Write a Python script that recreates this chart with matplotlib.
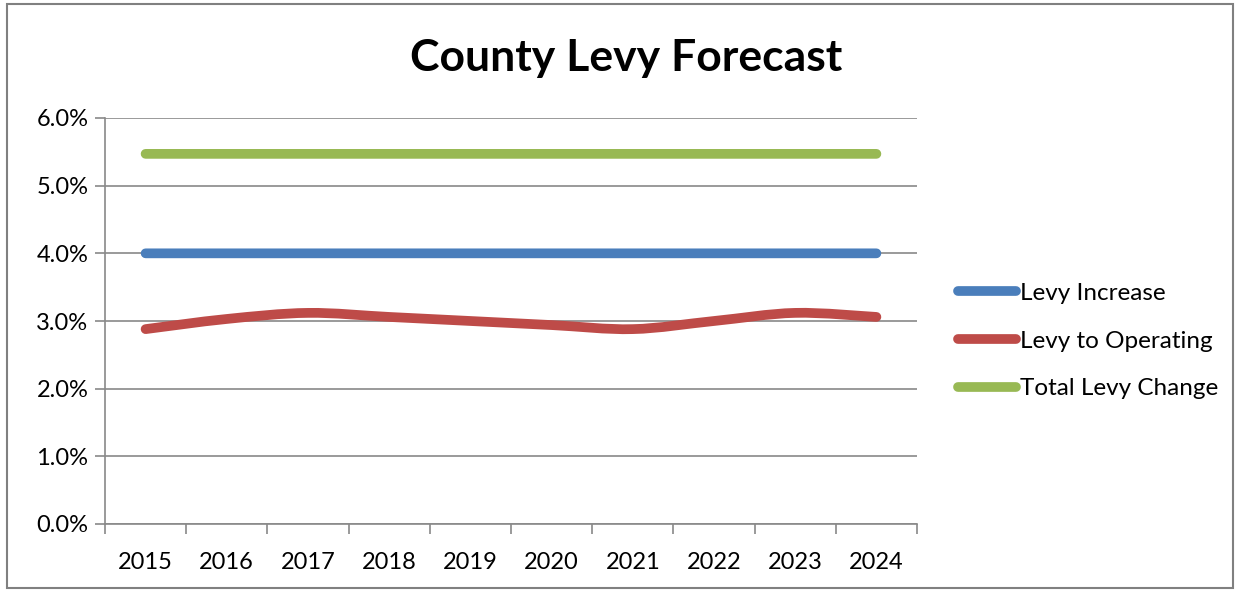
import matplotlib
matplotlib.use("Agg")
import matplotlib.pyplot as plt
from matplotlib.patches import Rectangle, PathPatch
from matplotlib.path import Path
from matplotlib.lines import Line2D
from matplotlib.ticker import FuncFormatter, FixedLocator
import numpy as np

years = ["2015", "2016", "2017", "2018", "2019", "2020", "2021", "2022", "2023", "2024"]
levy_increase = [4.0, 4.0, 4.0, 4.0, 4.0, 4.0, 4.0, 4.0, 4.0, 4.0]
levy_to_operating = [2.88, 3.03, 3.12, 3.06, 3.00, 2.94, 2.88, 3.00, 3.12, 3.06]
total_levy_change = [5.47, 5.47, 5.47, 5.47, 5.47, 5.47, 5.47, 5.47, 5.47, 5.47]
series_names = ["Levy Increase", "Levy to Operating", "Total Levy Change"]
colors = ["#4a7ebb", "#be4b48", "#98b954"]

plt.rcParams['font.family'] = ['Lato', 'DejaVu Sans']

fig = plt.figure(figsize=(12.42, 5.92), dpi=100)
ax = fig.add_axes([105/1242, 68/592, (917-105)/1242, (524-118)/592])

x = np.arange(len(years))


def smooth_path(xs, ys):
    # Catmull-Rom style Bezier (like Excel's smoothed line)
    pts = np.column_stack([xs, ys]).astype(float)
    verts = [pts[0]]
    codes = [Path.MOVETO]
    n = len(pts)
    for i in range(n - 1):
        p0 = pts[i - 1] if i > 0 else pts[i]
        p1 = pts[i]
        p2 = pts[i + 1]
        p3 = pts[i + 2] if i + 2 < n else pts[i + 1]
        c1 = p1 + (p2 - p0) / 6.0
        c2 = p2 - (p3 - p1) / 6.0
        verts += [c1, c2, p2]
        codes += [Path.CURVE4] * 3
    return Path(verts, codes)


handles = []
for vals, name, c in zip([levy_increase, levy_to_operating, total_levy_change], series_names, colors):
    patch = PathPatch(smooth_path(x, vals), facecolor='none', edgecolor=c, lw=7,
                      capstyle='round', joinstyle='round')
    ax.add_patch(patch)
    handles.append(Line2D([], [], color=c, lw=7, solid_capstyle='round', label=name))

ax.set_xlim(-0.5, len(years) - 0.5)
ax.set_ylim(0, 6)
ax.set_yticks(np.arange(0, 7, 1))
ax.yaxis.set_major_formatter(FuncFormatter(lambda v, p: f"{v:.1f}%"))
ax.set_xticks(x)
ax.set_xticklabels(years)
ax.xaxis.set_minor_locator(FixedLocator(np.arange(-0.5, len(years), 1)))
ax.tick_params(axis='x', which='major', length=0, pad=20, labelsize=17)
ax.tick_params(axis='x', which='minor', length=7, color='#898989', width=1.2)
ax.tick_params(axis='y', length=7, color='#898989', width=1.2, labelsize=17, pad=5)
ax.grid(axis='y', color='#898989', lw=1.2)
ax.set_axisbelow(True)
for s in ['top', 'right']:
    ax.spines[s].set_visible(False)
for s in ['left', 'bottom']:
    ax.spines[s].set_color('#898989')
    ax.spines[s].set_linewidth(1.2)

fig.text(626/1242, 1 - 58/592, "County Levy Forecast", ha='center', va='center',
         fontsize=32, fontweight='bold')

leg = fig.legend(handles=handles, loc='center left', bbox_to_anchor=(936/1242, 1 - 341/592),
                 frameon=False, fontsize=17.5, handlelength=2.4, handletextpad=0.15,
                 labelspacing=1.1)

fig.add_artist(Rectangle((7/1242, 4/592), (1233-7)/1242, (588-4)/592, transform=fig.transFigure,
                         fill=False, edgecolor='#808080', lw=1.5))

fig.savefig("out.png", dpi=100)
